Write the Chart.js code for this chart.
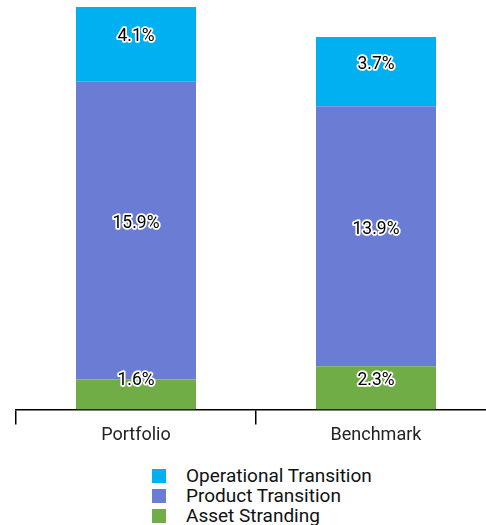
<!DOCTYPE html>
<html>
<head>
<meta charset="utf-8">
<script src="https://cdn.jsdelivr.net/npm/chart.js@4/dist/chart.umd.min.js"></script>
<style>
  html, body { margin: 0; padding: 0; background: #fff; overflow: hidden; }
  #wrap { position: relative; width: 486px; height: 525px; overflow: hidden; }
  #wrap canvas { position: absolute; left: 0; top: 0; }
  #legend { position: absolute; left: 152px; top: 466px; font: 19px Roboto, sans-serif; color: #111; }
  #legend div { height: 20px; line-height: 20px; white-space: nowrap; }
  #legend span { display: inline-block; width: 14px; height: 14px; vertical-align: -1px; margin-right: 20px; }
</style>
</head>
<body>
<div id="wrap">
  <canvas id="myChart" width="500" height="446" style="width:500px;height:446px"></canvas>
  <div id="legend"></div>
</div>
<script>
// Categorie e valori (in %)
var categories = ["Portfolio", "Benchmark"];
var assetStranding = [1.6, 2.3];
var productTransition = [15.9, 13.9];
var operationalTransition = [4.1, 3.7];

var data = {
    labels: categories,
    datasets: [
        { label: "Asset Stranding", data: assetStranding, backgroundColor: "#70AD47" },
        { label: "Product Transition", data: productTransition, backgroundColor: "#6B7CD5" },
        { label: "Operational Transition", data: operationalTransition, backgroundColor: "#00B0F0" }
    ]
};

// Etichette dei valori: testo nero con contorno bianco
var valueLabels = {
    id: "valueLabels",
    afterDatasetsDraw: function (chart) {
        var ctx = chart.ctx;
        ctx.save();
        ctx.font = "17.5px Roboto";
        ctx.textAlign = "center";
        ctx.textBaseline = "middle";
        ctx.lineJoin = "round";
        chart.data.datasets.forEach(function (ds, i) {
            chart.getDatasetMeta(i).data.forEach(function (bar, j) {
                var y = Math.min((bar.y + bar.base) / 2 - 7, bar.base - 29);
                var txt = ds.data[j].toFixed(1) + "%";
                ctx.lineWidth = 3.5;
                ctx.strokeStyle = "#fff";
                ctx.strokeText(txt, bar.x, y);
                ctx.fillStyle = "#000";
                ctx.fillText(txt, bar.x, y);
            });
        });
        ctx.restore();
    }
};

var ctx = document.getElementById("myChart").getContext("2d");
const stacked = new Chart(ctx, {
    type: "bar",
    data: data,
    plugins: [valueLabels],
    options: {
        responsive: false,
        animation: false,
        layout: { padding: { left: 16, right: 4, top: 7 } },
        datasets: { bar: { categoryPercentage: 1, barPercentage: 0.5 } },
        plugins: { legend: { display: false }, tooltip: { enabled: false } },
        scales: {
            x: {
                stacked: true,
                grid: { display: true, drawOnChartArea: false, drawTicks: true, tickLength: 15, color: "#000", lineWidth: 1.5 },
                border: { display: true, color: "#000", width: 1.5 },
                ticks: { color: "#222", font: { family: "Roboto", size: 18 }, padding: 0 }
            },
            y: {
                stacked: true,
                display: false,
                min: 0,
                max: 21.5
            }
        }
    }
});

// Legenda HTML in colonna (ordine inverso, come nell'originale)
var legend = document.getElementById("legend");
data.datasets.slice().reverse().forEach(function (ds) {
    var row = document.createElement("div");
    var box = document.createElement("span");
    box.style.background = ds.backgroundColor;
    row.appendChild(box);
    row.appendChild(document.createTextNode(ds.label));
    legend.appendChild(row);
});
</script>
</body>
</html>
